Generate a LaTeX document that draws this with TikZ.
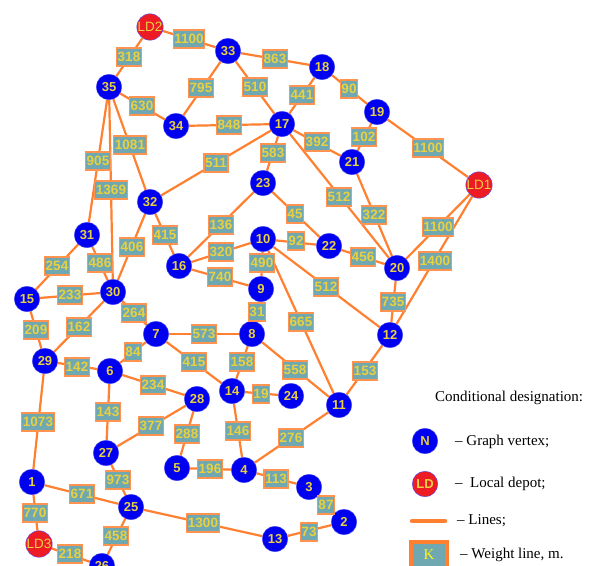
\documentclass[tikz,border=0pt]{standalone}
\usepackage{fontspec}
\setmainfont{Liberation Serif}
\newfontfamily\labfont{Liberation Sans}
\usetikzlibrary{backgrounds}
\definecolor{vblue}{HTML}{0000F0}
\definecolor{ldred}{HTML}{ED1C24}
\definecolor{edgeor}{HTML}{FF8030}
\definecolor{wfill}{HTML}{6FA8B0}
\definecolor{wtext}{HTML}{E8D040}
\tikzset{
  vtx/.style={circle,fill=vblue,draw=vblue!70!white,line width=.4pt,minimum size=25.5pt,inner sep=0pt,font=\labfont\bfseries\fontsize{13}{13}\selectfont,text=wtext},
  depot/.style={vtx,fill=ldred,draw=blue!70!white,font=\labfont\fontsize{13.5}{13.5}\selectfont},
  wt/.style={rectangle,fill=wfill,draw=edgeor!85!white,line width=1.2pt,minimum height=18pt,inner sep=1.2pt,font=\labfont\bfseries\fontsize{13.5}{13.5}\selectfont,text=wtext},
  edge/.style={draw=edgeor,line width=2.2pt},
  legtext/.style={anchor=west,inner sep=0pt,font=\fontsize{15}{15}\selectfont,text=black}
}
\begin{document}
\begin{tikzpicture}[x=1pt,y=-1pt]
\useasboundingbox (0,0) rectangle (593,565);
\clip (0,0) rectangle (593,565);
\foreach \n/\x/\y in {33/228/51,18/322/67,19/377/112,35/109/87,34/176/126,17/282/124,21/352/162,32/150/202,23/263/183,31/87/235,16/179/266,10/263/239,22/329/246,20/397/268,9/261/289,15/27/299,30/113/292,7/156/334,8/252/334,29/45/361,6/110/371,12/390/335,28/197/399,14/232/391,24/291/396,11/339/405,27/106/453,5/177/468,4/244/470,3/309/487,2/344/522,1/32/482,25/131/507,13/275/539,26/102/566}
  \node[vtx] (v\n) at (\x,\y) {\n};
\node[depot] (LD1) at (479,185) {LD1};
\node[depot] (LD2) at (150,27) {LD2};
\node[depot] (LD3) at (39,544) {LD3};
\begin{scope}[on background layer]
\foreach \a/\b in {LD2/v35,LD2/v33,v33/v18,v33/v34,v33/v17,v18/v17,v18/v19,v35/v34,v34/v17,v19/v21,v17/v21,v19/LD1,v35/v31,v35/v32,v35/v30,v32/v17,v17/v23,v17/v20,v21/v20,v23/v22,v23/v16,v32/v16,v32/v30,v20/LD1,v12/LD1,v31/v15,v31/v30,v16/v10,v10/v22,v22/v20,v16/v9,v10/v9,v10/v12,v20/v12,v15/v30,v30/v7,v30/v29,v15/v29,v9/v8,v7/v8,v10/v11,v7/v6,v7/v14,v8/v14,v8/v11,v29/v6,v6/v28,v14/v24,v12/v11,v6/v27,v28/v27,v28/v5,v14/v4,v29/v1,v11/v4,v27/v25,v5/v4,v4/v3,v3/v2,v1/v25,v1/LD3,v25/v13,v13/v2,v25/v26,LD3/v26}
  \draw[edge] (\a) -- (\b);
\end{scope}
\foreach \t/\x/\y in {318/129/57,1100/189/39,863/275/59,795/201/88,510/255/87,441/302/95,90/349/89,630/142/106,848/229/125,102/364/137,392/317/142,1100/428/148,905/98/161,1081/130/145,1369/111/190,511/216/163,583/273/153,512/339/197,322/374/215,45/295/214,136/221/225,415/165/235,406/132/247,1100/438/227,1400/435/261,254/57/266,486/100/263,320/221/252,92/296/241,456/363/257,740/220/277,490/262/263,512/326/287,735/393/302,233/70/295,264/134/313,162/79/327,209/36/330,31/257/312,573/204/334,665/301/322,84/133/352,415/194/362,158/242/362,558/295/370,142/77/367,234/153/385,19/261/394,153/365/371,143/108/412,377/151/426,288/187/434,146/238/431,1073/38/422,276/291/438,973/118/480,196/210/469,113/276/479,87/326/505,671/82/494,770/35/513,1300/203/523,73/309/532,458/116/536,218/70/554}
  \node[wt] at (\x,\y) {\t};
% legend
\node[anchor=west,inner sep=0pt,font=\fontsize{15}{15}\selectfont] (ltitle) at (435,397.5) {Conditional designation:};
\node[vtx] (legN) at (425,441) {N};
\node[vtx,fill=ldred,draw=blue!70!white] (legLD) at (425,484) {LD};
\coordinate (la) at (412,521);
\coordinate (lb) at (445,521);
\draw[draw=edgeor,line width=4.5pt,line cap=round] (la) -- (lb);
\node[rectangle,fill=wfill,draw=edgeor,line width=3.5pt,minimum width=36pt,minimum height=26pt,inner sep=0pt,text=yellow!90!white,font=\fontsize{15}{15}\selectfont] (legK) at (429,555) {K};
\node[legtext] (t1) at (455,441.5) {-- Graph vertex;};
\node[legtext] (t2) at (455,484) {--\ \ Local depot;};
\node[legtext] (t3) at (457,520.5) {-- Lines;};
\node[legtext] (t4) at (460,555) {-- Weight line, m.};
\end{tikzpicture}
\end{document}
